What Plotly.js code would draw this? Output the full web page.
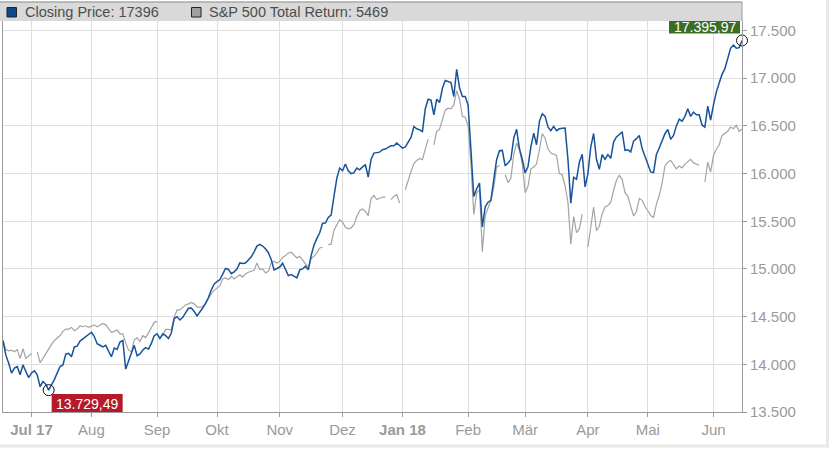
<!DOCTYPE html>
<html><head><meta charset="utf-8">
<script src="https://cdn.plot.ly/plotly-3.0.1.min.js"></script>
<style>html,body{margin:0;padding:0;background:#fff;}#chart{width:838px;height:452px;}</style>
</head><body><div id="chart"></div>
<script>
// first trading day of the series (weekdays only)
const startDate = '2017-06-19';

// Closing price, one value per weekday from 2017-06-19 to 2018-06-15
const closingPrice = [
14250,14096,14011,13908,13960,13977,13891,13994,13925,13860,
13910,13932,13891,13765,13820,13790,13729.49,13778,13840,13910,
13977,13994,14107,14114,14080,14182,14190,14244,14267,14290,
14319,14336,14291,14216,14200,14182,14199,14131,14079,14170,
14155,14233,14250,13950,14040,14114,14199,14090,14110,14150,
14175,14160,14220,14300,14320,14271,14320,14300,14271,14330,
14480,14500,14465,14493,14542,14588,14590,14555,14507,14545,
14590,14640,14700,14780,14840,14868,14887,14945,15005,14995,
14950,14970,15000,15063,15058,15063,15090,15127,15180,15240,
15257,15240,15211,15170,15100,14990,15005,15020,15060,14990,
14930,14941,14920,14907,14990,15000,15029,14990,15140,15250,
15320,15380,15480,15482,15540,15565,15760,15953,16058,16030,
16100,16030,16000,16010,16058,16040,16070,16093,15964,16150,
16215,16222,16225,16250,16257,16275,16292,16292,16320,16295,
16267,16280,16330,16380,16494,16470,16459,16442,16680,16780,
16770,16616,16780,16745,16895,16976,16965,16955,16808,17094,
16900,16808,16808,16720,16250,15760,15840,15900,15440,15650,
15700,15720,15936,16145,16240,16243,16082,16110,16150,16372,
16466,16260,16150,16006,16075,16280,16424,16302,16550,16627,
16600,16490,16450,16495,16450,16470,16475,16477,16150,15690,
15960,15940,16120,16203,15860,16000,16280,16420,16150,16045,
16200,16150,16200,16160,16330,16385,16410,16437,16244,16250,
16227,16340,16366,16400,16262,16180,16080,16017,16010,16200,
16268,16340,16418,16463,16359,16400,16500,16570,16550,16600,
16679,16600,16645,16617,16617,16510,16488,16707,16560,16721,
16854,16950,17040,17100,17210,17314,17348,17314,17320,17395.97
];

// S&P 500 Total Return, rebased to the closing price; null = US market holiday
const sp500TotalReturn = [
14250,14155,14141,14148,14131,14155,14062,14165,14062,14086,
14114,null,14131,14018,14062,14114,14165,14209,14250,14278,
14302,14346,14370,14370,14387,14353,14370,14404,14394,14404,
14387,14400,14414,14394,14414,14428,14414,14380,14336,14346,
14360,14319,14319,14223,14148,14131,14257,14278,14240,14300,
14280,14330,14380,14440,14450,null,14300,14366,14366,14360,
14493,14570,14570,14600,14623,14634,14648,14634,14600,14600,
14606,14641,14694,14740,14775,14796,14824,14894,14905,14887,
14922,14894,14922,14940,14915,14950,14965,14975,14986,15063,
14993,15000,14958,14975,15063,15081,15063,15081,15120,15140,
15168,15175,15140,15116,15133,15095,15060,15015,15110,15133,
15170,15220,15228,null,15256,15260,15406,15460,15517,15490,
15440,15420,15430,15465,15550,15610,15629,15604,15560,15740,
15770,15727,15744,15754,15754,null,15727,15761,15779,15692,
null,15831,15936,16023,16103,16138,16159,16145,16257,16362,
null,16302,16442,16466,16560,16665,16686,16680,16720,16870,
16780,16600,16592,16500,16100,15570,15800,15830,15180,15560,
15640,15720,15850,16070,16082,null,15988,15905,15950,16200,
16320,16250,16100,15800,15866,16050,16070,16100,16250,16420,
16370,16260,16215,16200,16190,16000,15985,15870,15700,15260,
15550,15380,15420,15575,null,15230,15430,15650,15400,15450,
15580,15650,15665,15700,15825,15930,15982,15940,15800,15762,
15657,15555,15600,15740,15720,15655,15610,15560,15540,15680,
15770,15900,16080,16120,16140,16090,16050,16080,16060,16100,
16125,16150,16112,16098,16087,null,15912,16120,16017,16190,
16255,16300,16400,16418,16443,16488,16470,16505,16443,16465
];

const seriesNames = ['Closing Price: 17396', 'S&P 500 Total Return: 5469'];
const monthTickDates = ['2017-07-03','2017-08-01','2017-09-01','2017-10-02','2017-11-01','2017-12-01',
                        '2018-01-01','2018-02-01','2018-03-01','2018-04-02','2018-05-01','2018-06-01'];
const monthTickLabels = ['<b>Jul 17</b>','Aug','Sep','Okt','Nov','Dez','<b>Jan 18</b>','Feb','Mär','Apr','Mai','Jun'];
const yTickVals = [13500,14000,14500,15000,15500,16000,16500,17000,17500];
const yTickText = ['13.500','14.000','14.500','15.000','15.500','16.000','16.500','17.000','17.500'];

function tradingDays(start, n) {
  const out = [];
  let t = Date.parse(start + 'T00:00:00Z');
  while (out.length < n) {
    const d = new Date(t);
    const w = d.getUTCDay();
    if (w !== 0 && w !== 6) out.push(d.toISOString().slice(0, 10));
    t += 86400000;
  }
  return out;
}
function de(v) {
  const p = v.toFixed(2).split('.');
  return p[0].replace(/\B(?=(\d{3})+(?!\d))/g, '.') + ',' + p[1];
}

const dates = tradingDays(startDate, closingPrice.length);
let iMin = 0, iMax = 0;
closingPrice.forEach((v, i) => { if (v < closingPrice[iMin]) iMin = i; if (v > closingPrice[iMax]) iMax = i; });

const BLUE = '#17539b', GRAY = '#a3a3a3';
const FONT = 'Liberation Sans, Arial, Helvetica, sans-serif';

// layout geometry helpers (plot area: x 3..742, y 21..412)
const L = 3, R = 96, T = 21, B = 40, W = 838, H = 452;
const pw = W - L - R, ph = H - T - B;
const px = p => (p - L) / pw;
const py = p => 1 - (p - T) / ph;

const traces = [
  {x: dates, y: sp500TotalReturn, type: 'scatter', mode: 'lines', name: seriesNames[1],
   line: {color: GRAY, width: 1.2}, connectgaps: false, hoverinfo: 'skip'},
  {x: dates, y: closingPrice, type: 'scatter', mode: 'lines', name: seriesNames[0],
   line: {color: BLUE, width: 1.5}, hoverinfo: 'skip'},
  {x: [dates[iMin], dates[iMax]], y: [closingPrice[iMin], closingPrice[iMax]], type: 'scatter', mode: 'markers',
   marker: {symbol: 'circle-open', size: 11, color: '#111', line: {width: 1}}, cliponaxis: false, hoverinfo: 'skip'}
];

const shapes = [
  {type: 'rect', xref: 'x', yref: 'y', xsizemode: 'pixel', ysizemode: 'pixel',
   xanchor: dates[iMin], yanchor: closingPrice[iMin], x0: 3, x1: 74, y0: -22.5, y1: -4,
   fillcolor: '#b5192a', line: {width: 0}, layer: 'above'},
  {type: 'rect', xref: 'x', yref: 'y', xsizemode: 'pixel', ysizemode: 'pixel',
   xanchor: dates[iMax], yanchor: closingPrice[iMax], x0: -73, x1: -2, y0: 7, y1: 21,
   fillcolor: '#3a6e25', line: {width: 0}, layer: 'above'},
  {type: 'rect', xref: 'paper', yref: 'paper', x0: px(0), x1: px(742), y0: py(21), y1: py(2),
   fillcolor: '#d9d9d9', line: {width: 0}, layer: 'above'},
  {type: 'line', xref: 'paper', yref: 'paper', x0: px(0), x1: px(742), y0: py(2), y1: py(2),
   line: {color: '#a9a9a9', width: 1.5}, layer: 'above'},
  {type: 'line', xref: 'paper', yref: 'paper', x0: px(742), x1: px(742), y0: py(2), y1: py(21),
   line: {color: '#9b9b9b', width: 1}, layer: 'above'},
  {type: 'rect', xref: 'paper', yref: 'paper', x0: px(7), x1: px(16.5), y0: py(17), y1: py(7.5),
   fillcolor: '#0d4a8e', line: {color: '#222', width: 1}, layer: 'above'},
  {type: 'rect', xref: 'paper', yref: 'paper', x0: px(191.5), x1: px(201), y0: py(17), y1: py(7.5),
   fillcolor: '#a0a0a0', line: {color: '#222', width: 1}, layer: 'above'},
  {type: 'line', xref: 'paper', yref: 'paper', x0: px(827.5), x1: px(827.5), y0: py(0), y1: py(447.5),
   line: {color: '#e8e8e8', width: 3}, layer: 'above'},
  {type: 'line', xref: 'paper', yref: 'paper', x0: px(0), x1: px(829), y0: py(446), y1: py(446),
   line: {color: '#e8e8e8', width: 3}, layer: 'above'}
];

const annotations = [
  {xref: 'paper', yref: 'paper', x: px(23), y: py(12.5), xanchor: 'left', yanchor: 'middle',
   text: seriesNames[0], showarrow: false, font: {family: FONT, size: 14.5, color: '#4d4d4d'}},
  {xref: 'paper', yref: 'paper', x: px(207), y: py(12.5), xanchor: 'left', yanchor: 'middle',
   text: seriesNames[1], showarrow: false, font: {family: FONT, size: 14.5, color: '#4d4d4d'}},
  {xref: 'x', yref: 'y', x: dates[iMin], y: closingPrice[iMin], xshift: 38.5, yshift: -13.5,
   xanchor: 'center', yanchor: 'middle', text: de(closingPrice[iMin]), showarrow: false,
   font: {family: FONT, size: 14, color: '#fff'}},
  {xref: 'x', yref: 'y', x: dates[iMax], y: closingPrice[iMax], xshift: -37.5, yshift: 13.5,
   xanchor: 'center', yanchor: 'middle', text: de(closingPrice[iMax]), showarrow: false,
   font: {family: FONT, size: 14, color: '#fff'}}
];

const layout = {
  width: W, height: H, margin: {l: L, r: R, t: T, b: B, pad: 0},
  paper_bgcolor: '#fff', plot_bgcolor: '#fff', showlegend: false,
  font: {family: FONT},
  xaxis: {type: 'date', range: [dates[0], dates[dates.length - 1]],
    rangebreaks: [{bounds: ['sat', 'mon']}],
    tickmode: 'array', tickvals: monthTickDates, ticktext: monthTickLabels,
    showgrid: true, gridcolor: '#dedede', gridwidth: 1, zeroline: false,
    showline: true, linecolor: '#9b9b9b', linewidth: 1,
    ticks: 'outside', ticklen: 4, tickcolor: '#9b9b9b',
    tickfont: {family: FONT, size: 15, color: '#9a9a9a'}, fixedrange: true},
  yaxis: {side: 'right', range: [13500, 17600],
    tickmode: 'array', tickvals: yTickVals, ticktext: yTickText,
    showgrid: true, gridcolor: '#dedede', gridwidth: 1, zeroline: false,
    showline: true, mirror: true, linecolor: '#9b9b9b', linewidth: 1,
    ticks: 'outside', ticklen: 4, tickcolor: '#9b9b9b',
    tickfont: {family: FONT, size: 15, color: '#9a9a9a'}, fixedrange: true},
  shapes: shapes, annotations: annotations
};

Plotly.newPlot('chart', traces, layout, {staticPlot: true, displayModeBar: false});
</script></body></html>
